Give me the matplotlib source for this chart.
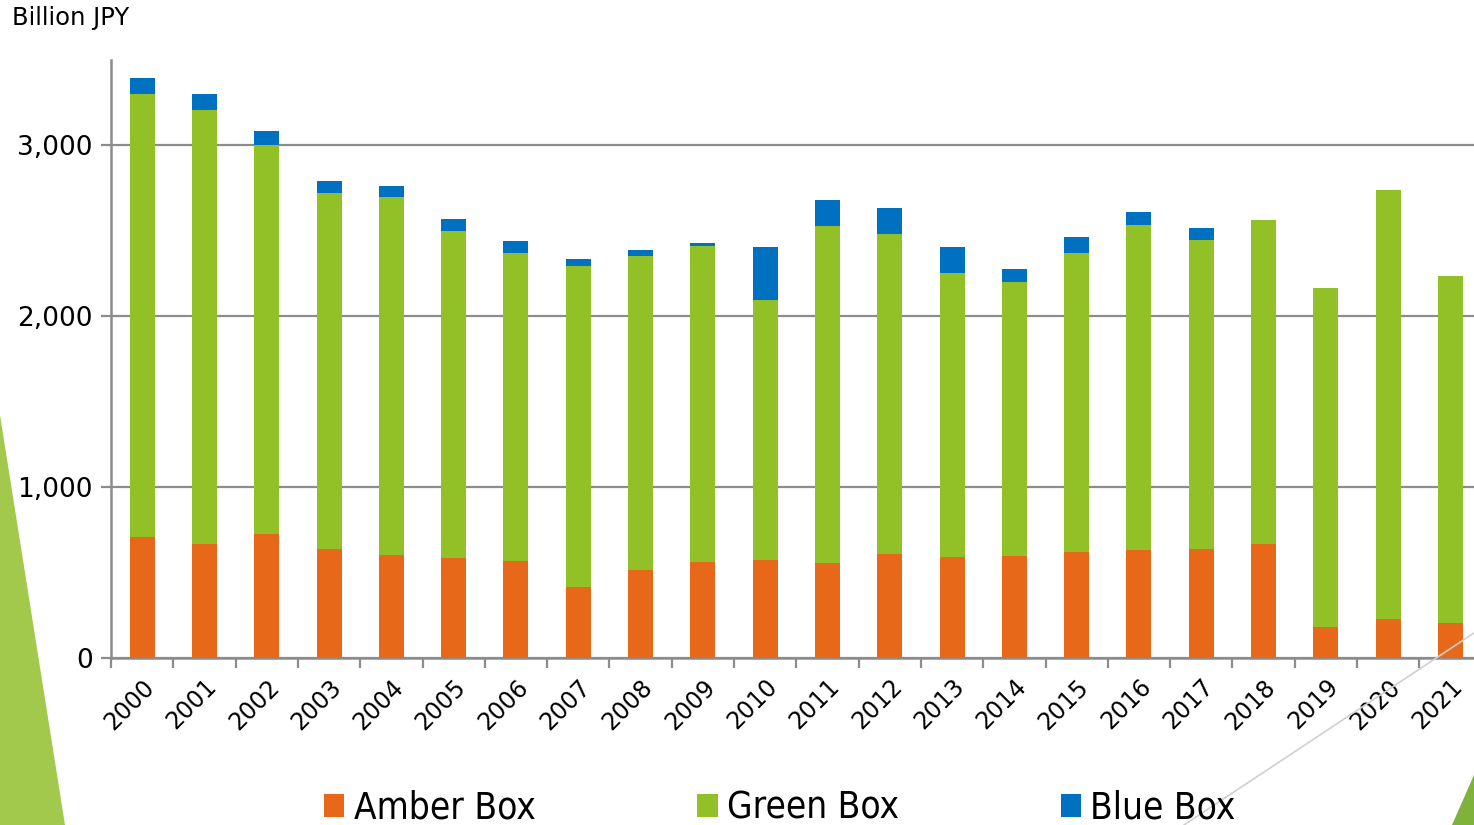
import matplotlib
matplotlib.use("Agg")
import matplotlib.pyplot as plt
import numpy as np
from matplotlib.patches import Polygon, Patch
from matplotlib.lines import Line2D
from matplotlib import font_manager

# values in billion JPY
years = [str(y) for y in range(2000, 2022)]
amber = [707, 666, 726, 637, 605, 588, 570, 414, 517, 560, 574,
         555, 607, 590, 596, 619, 633, 640, 666, 183, 230, 205]
green_top = [3300, 3210, 3001, 2724, 2701, 2501, 2373, 2296, 2355, 2410, 2097,
             2531, 2484, 2254, 2199, 2369, 2537, 2449, 2564, 2166, 2740, 2236]
blue_top = [3395, 3302, 3087, 2789, 2765, 2572, 2439, 2337, 2386, 2431, 2404,
            2683, 2636, 2408, 2275, 2466, 2609, 2519, 2564, 2166, 2740, 2236]
green = [g - a for g, a in zip(green_top, amber)]
blue = [b - g for b, g in zip(blue_top, green_top)]

labels = ["Amber Box", "Green Box", "Blue Box"]
colors = ["#E8681A", "#92C127", "#0070C0"]

W, H = 1474, 825
fig = plt.figure(figsize=(W / 100, H / 100), dpi=100)

def fxy(x, y):
    return (x / W, 1 - y / H)

# slide decorations
fig.patches.append(Polygon([fxy(0, 415), fxy(65, 825), fxy(0, 825)], closed=True,
                           facecolor="#A3C94C", edgecolor="none", transform=fig.transFigure))
fig.patches.append(Polygon([fxy(1474, 775), fxy(1474, 825), fxy(1452, 825)], closed=True,
                           facecolor="#7FB23A", edgecolor="none", transform=fig.transFigure))
fig.lines.append(Line2D([1184 / W, 1474 / W], [0, 1 - 633 / H], color="#D0D0D0",
                        lw=1.2, transform=fig.transFigure))

ax = fig.add_axes([111 / W, 1 - 658 / H, 22 * 62.3 / W, (658 - 60) / H])
ax.patch.set_alpha(0)

x = np.arange(len(years))
bw = 0.4
ax.bar(x, amber, bw, color=colors[0], zorder=3)
ax.bar(x, green, bw, bottom=amber, color=colors[1], zorder=3)
ax.bar(x, blue, bw, bottom=green_top, color=colors[2], zorder=3)

ax.set_xlim(-0.5, 21.5)
ax.set_ylim(0, 3500)
ax.set_yticks([0, 1000, 2000, 3000])
ax.set_yticklabels(["0", "1,000", "2,000", "3,000"])
ax.yaxis.grid(True, color="#8C8C8C", lw=1.6, zorder=0)

ax.set_xticks(x)
ax.set_xticklabels(years, rotation=45, ha="right", va="top", rotation_mode="anchor")
ax.set_xticks(np.arange(-0.5, 22, 1), minor=True)
ax.tick_params(axis="x", which="major", length=0, pad=12, labelsize=17)
ax.tick_params(axis="x", which="minor", length=7, width=1.6, color="#8C8C8C")
ax.tick_params(axis="y", length=7, width=1.6, color="#8C8C8C", labelsize=19, pad=6)

for s in ["top", "right"]:
    ax.spines[s].set_visible(False)
for s in ["left", "bottom"]:
    ax.spines[s].set_color("#8C8C8C")
    ax.spines[s].set_linewidth(1.8)

fig.text(12 / W, 1 - 6 / H, "Billion JPY", fontsize=17.5, ha="left", va="top")

leg_font = font_manager.FontProperties(family="DejaVu Sans", stretch="condensed", size=26.5)
handles = [Patch(facecolor=c) for c in colors]
fig.legend(handles, labels, ncol=3, loc="lower left", bbox_to_anchor=(291 / W, -0.042),
           frameon=False, handlelength=0.55, handleheight=0.55,
           handletextpad=0.25, columnspacing=4.4, prop=leg_font)

fig.savefig("out.png", dpi=100)
